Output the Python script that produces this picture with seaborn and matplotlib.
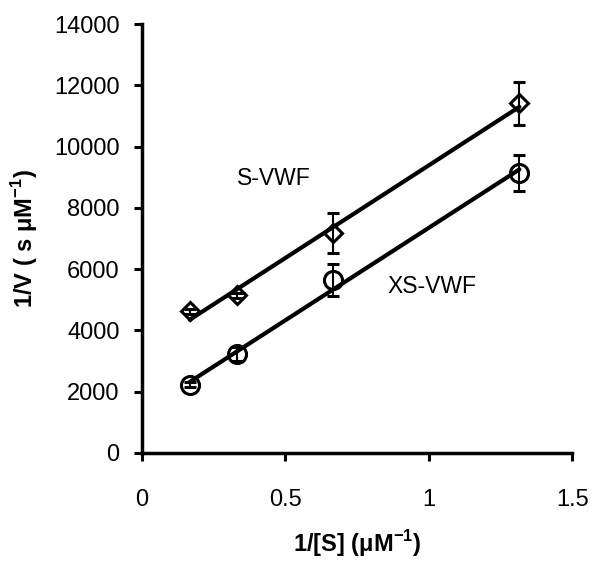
import matplotlib
matplotlib.use("Agg")
import matplotlib.pyplot as plt
import numpy as np
import pandas as pd
import seaborn as sns

# 1/[S] values and 1/V values
inv_s = [0.167, 0.333, 0.667, 1.316]
s_vwf = [4630, 5150, 7190, 11410]
s_vwf_err = [80, 80, 650, 700]
xs_vwf = [2230, 3230, 5640, 9140]
xs_vwf_err = [80, 230, 530, 600]

df = pd.DataFrame({"x": inv_s * 2,
                   "y": s_vwf + xs_vwf,
                   "err": s_vwf_err + xs_vwf_err,
                   "form": ["S-VWF"] * 4 + ["XS-VWF"] * 4})

sns.set_style("ticks", {"axes.edgecolor": "black", "text.color": "black",
                        "axes.labelcolor": "black", "xtick.color": "black",
                        "ytick.color": "black"})
plt.rcParams["font.family"] = ["Liberation Sans", "DejaVu Sans"]
plt.rcParams["mathtext.fontset"] = "custom"
plt.rcParams["mathtext.rm"] = "Liberation Sans"
plt.rcParams["mathtext.bf"] = "Liberation Sans:bold"

fig = plt.figure(figsize=(5.96, 5.62), dpi=100)
ax = fig.add_axes([0.238, 0.194, 0.722, 0.763])

markers = {"S-VWF": "D", "XS-VWF": "o"}
msize = {"S-VWF": 9, "XS-VWF": 13}
for form, sub in df.groupby("form"):
    # least-squares line through the points
    sns.regplot(data=sub, x="x", y="y", scatter=False, ci=None, ax=ax,
                line_kws={"color": "black", "lw": 3})
    ax.errorbar(sub["x"], sub["y"], yerr=sub["err"], fmt=markers[form],
                ms=msize[form], mfc="none", mec="black", mew=2.2,
                ecolor="black", elinewidth=1.5, capsize=4, capthick=1.5,
                zorder=3)

ax.text(0.46, 8950, "S-VWF", fontsize=16.5, ha="center", va="center")
ax.text(1.01, 5440, "XS-VWF", fontsize=16.5, ha="center", va="center")

ax.set_xlim(0, 1.5)
ax.set_ylim(0, 14000)
ax.set_xticks([0, 0.5, 1, 1.5])
ax.set_xticklabels(["0", "0.5", "1", "1.5"])
ax.set_yticks(range(0, 14001, 2000))
ax.tick_params(labelsize=17, width=2.2, length=6, direction="out", colors="black")
ax.tick_params(axis="x", pad=20)
ax.tick_params(axis="y", pad=10)
for side in ["left", "bottom"]:
    ax.spines[side].set_linewidth(2.5)
    ax.spines[side].set_color("black")
sns.despine(ax=ax)

ax.set_xlabel("1/[S] (μM$^{\\mathbf{-1}}$)", fontsize=17, fontweight="bold", labelpad=12)
ax.set_ylabel("1/V ( s μM$^{\\mathbf{-1}}$)", fontsize=17, fontweight="bold", labelpad=10)

fig.savefig("out.png", dpi=100)
